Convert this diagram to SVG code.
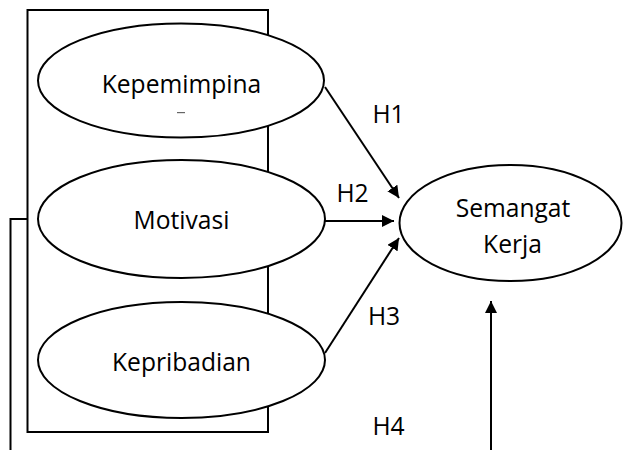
<svg xmlns="http://www.w3.org/2000/svg" width="623" height="450" viewBox="0 0 623 450">
<defs>
<marker id="ah" markerWidth="12" markerHeight="12" refX="12" refY="6" orient="auto" markerUnits="userSpaceOnUse" viewBox="0 0 12 12">
<path d="M0,0 L12,6 L0,12 Z" fill="#000"/>
</marker>
<style>
.shape{fill:#fff;stroke:#000;stroke-width:2}
.ln{fill:none;stroke:#000;stroke-width:2}
.t{font-family:"Open Sans","Liberation Sans",sans-serif;font-size:24.6px;fill:#000;text-anchor:middle}
</style>
</defs>
<rect x="0" y="0" width="623" height="450" fill="#fff"/>
<g id="group-box">
<rect x="27.5" y="10" width="240.5" height="422" class="ln"/>
</g>
<g id="node-kepemimpinan">
<ellipse cx="181" cy="80.5" rx="143" ry="57" class="shape"/>
<text x="181.5" y="93" class="t">Kepemimpina</text>
<rect x="177" y="112" width="8" height="1.2" fill="#666"/>
</g>
<g id="node-motivasi">
<ellipse cx="181.5" cy="219" rx="143.5" ry="59" class="shape"/>
<text x="181.5" y="229" class="t">Motivasi</text>
</g>
<g id="node-kepribadian">
<ellipse cx="181.5" cy="360" rx="143.5" ry="58" class="shape"/>
<text x="181.5" y="371" class="t">Kepribadian</text>
</g>
<g id="node-semangat">
<ellipse cx="510.5" cy="223" rx="111" ry="58" class="shape"/>
<text x="513" y="217" class="t">Semangat</text>
<text x="512.5" y="253" class="t">Kerja</text>
</g>
<g id="connectors">
<line x1="325" y1="87" x2="399" y2="198" class="ln" marker-end="url(#ah)"/>
<line x1="325" y1="221" x2="394" y2="221" class="ln" marker-end="url(#ah)"/>
<line x1="325" y1="353" x2="399" y2="238" class="ln" marker-end="url(#ah)"/>
<line x1="491" y1="450" x2="491" y2="301" class="ln" marker-end="url(#ah)"/>
<polyline points="27.5,219 10.5,219 10.5,450" class="ln"/>
</g>
<g id="labels">
<text x="388.5" y="123" class="t">H1</text>
<text x="352.5" y="202" class="t">H2</text>
<text x="384" y="325" class="t">H3</text>
<text x="388.5" y="435" class="t">H4</text>
</g>
</svg>
